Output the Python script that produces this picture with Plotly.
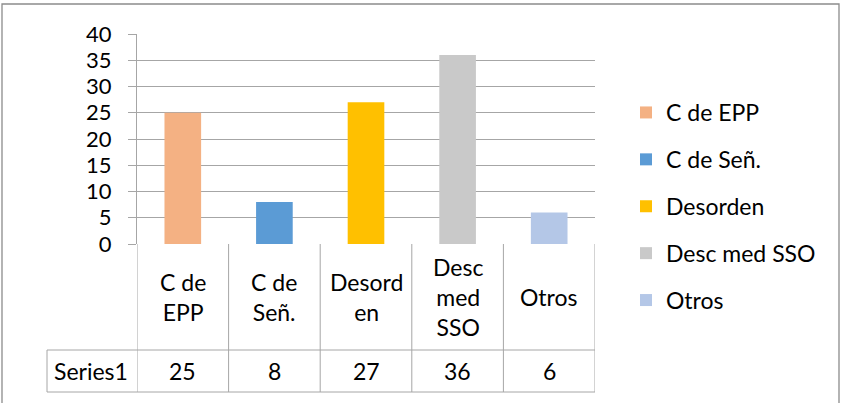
import plotly.graph_objects as go

categories = ["C de EPP", "C de Señ.", "Desorden", "Desc med SSO", "Otros"]
table_labels = ["C de<br>EPP", "C de<br>Señ.", "Desord<br>en", "Desc<br>med<br>SSO", "Otros"]
values = [25, 8, 27, 36, 6]
series_name = "Series1"
colors = ["#F4B183", "#5B9BD5", "#FFC000", "#C9C9C9", "#B4C7E7"]

W, H = 841, 403
L, R, T, B = 137, 246, 34, 159
pw, ph = W - L - R, H - T - B

def py(p):  # pixel y -> paper y
    return (H - B - p) / ph

def px(p):  # pixel x -> paper x
    return (p - L) / pw

FONT = "Lato, Carlito, Calibri, sans-serif"
FS = 23
GRID = "#A6A6A6"

fig = go.Figure()
for i, (c, v, col) in enumerate(zip(categories, values, colors)):
    fig.add_trace(go.Bar(x=[i], y=[v], name=c, marker=dict(color=col, line=dict(width=0)),
                         width=0.4, legendgroup=c, showlegend=True))

shapes = []
for k in range(len(categories) + 1):
    shapes.append(dict(type="line", xref="x", yref="paper", x0=k - 0.5, x1=k - 0.5,
                       y0=0, y1=py(392), line=dict(color=GRID, width=1)))
for yy in (350, 392):
    shapes.append(dict(type="line", xref="paper", yref="paper", x0=px(47), x1=1,
                       y0=py(yy), y1=py(yy), line=dict(color=GRID, width=1)))
shapes.append(dict(type="line", xref="paper", yref="paper", x0=px(47), x1=px(47),
                   y0=py(350), y1=py(392), line=dict(color=GRID, width=1)))
shapes.append(dict(type="rect", xref="paper", yref="paper", x0=px(2), x1=px(839),
                   y0=py(410), y1=py(4), line=dict(color="#8C8C8C", width=1.3),
                   fillcolor="rgba(0,0,0,0)"))

annotations = []
for i, (lab, v) in enumerate(zip(table_labels, values)):
    annotations.append(dict(x=i, xref="x", y=py(297), yref="paper", text=lab, showarrow=False,
                            font=dict(family=FONT, size=FS, color="black"), yanchor="middle",
                            xanchor="center", align="center"))
    annotations.append(dict(x=i, xref="x", y=py(371), yref="paper", text=str(v), showarrow=False,
                            font=dict(family=FONT, size=FS, color="black"), yanchor="middle",
                            xanchor="center"))
annotations.append(dict(x=px(91), xref="paper", y=py(371), yref="paper", text=series_name,
                        showarrow=False, font=dict(family=FONT, size=FS, color="black"),
                        yanchor="middle", xanchor="center"))

fig.update_layout(
    width=W, height=H, autosize=False,
    margin=dict(l=L, r=R, t=T, b=B),
    paper_bgcolor="white", plot_bgcolor="white",
    barmode="overlay",
    font=dict(family=FONT, size=FS, color="black"),
    showlegend=True,
    legend=dict(x=px(626), xanchor="left", y=py(91), yanchor="top",
                font=dict(family=FONT, size=FS, color="black"),
                traceorder="grouped", tracegroupgap=14, itemwidth=30,
                maxheight=380,
                bgcolor="rgba(0,0,0,0)"),
    shapes=shapes,
    annotations=annotations,
)
fig.update_xaxes(range=[-0.5, 4.5], showticklabels=False, showgrid=False, zeroline=False,
                 showline=False, ticks="", fixedrange=True)
fig.update_yaxes(range=[0, 40], dtick=5, tick0=0, showgrid=True, gridcolor=GRID, gridwidth=1,
                 showline=True, linecolor=GRID, linewidth=1, ticks="outside", ticklen=8,
                 tickcolor=GRID, zeroline=False, ticklabelstandoff=12,
                 tickfont=dict(family=FONT, size=22, color="black"))

fig.write_html("out.html", config={"displayModeBar": False},
               post_script="document.body.style.margin='0';document.body.style.overflow='hidden';")
